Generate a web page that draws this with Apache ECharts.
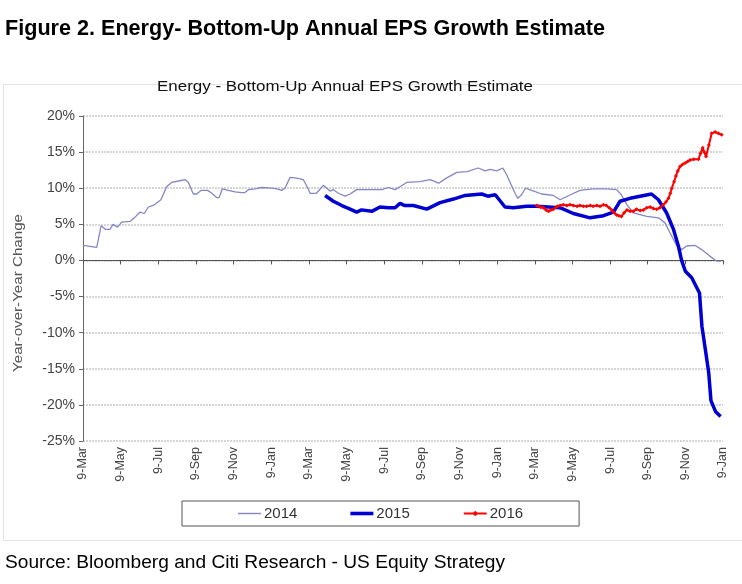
<!DOCTYPE html>
<html>
<head>
<meta charset="utf-8">
<script src="https://cdn.jsdelivr.net/npm/echarts@6/dist/echarts.min.js"></script>
<style>
html,body{margin:0;padding:0;background:#fff;}
#chart{width:742px;height:584px;}
</style>
</head>
<body>
<div id="chart"></div>
<script>
// Tick labels on the x axis (every 2 months, x measured in months from the first 9-Mar)
var xTickLabels = ['9-Mar','9-May','9-Jul','9-Sep','9-Nov','9-Jan','9-Mar','9-May','9-Jul','9-Sep','9-Nov','9-Jan','9-Mar','9-May','9-Jul','9-Sep','9-Nov','9-Jan'];
var seriesNames = ['2014','2015','2016'];

// [month offset, YoY %]
var s2014 = [[0,2.1],[0.73,1.8],[0.96,4.8],[1.2,4.3],[1.43,4.3],[1.6,5.0],[1.84,4.6],[2.05,5.3],[2.5,5.4],[2.73,5.9],[3.03,6.7],[3.26,6.5],[3.47,7.4],[3.79,7.7],[4.14,8.4],[4.44,10.2],[4.71,10.8],[5.07,11.0],[5.42,11.2],[5.6,10.8],[5.86,9.2],[6.04,9.2],[6.27,9.7],[6.62,9.7],[6.84,9.3],[7.1,8.7],[7.23,8.7],[7.4,9.9],[7.72,9.7],[8.08,9.5],[8.43,9.4],[8.6,9.4],[8.79,9.8],[9.14,9.9],[9.5,10.1],[10.03,10.0],[10.3,9.9],[10.56,9.7],[10.73,10.0],[11.0,11.5],[11.35,11.4],[11.7,11.2],[11.97,9.9],[12.06,9.3],[12.4,9.3],[12.77,10.4],[13.12,9.6],[13.3,9.8],[13.57,9.3],[13.92,8.9],[14.19,9.2],[14.54,9.8],[15.16,9.8],[15.87,9.8],[16.22,10.1],[16.58,9.8],[16.9,10.3],[17.2,10.8],[17.9,10.9],[18.44,11.2],[18.9,10.7],[19.3,11.4],[19.86,12.2],[20.4,12.3],[21.0,12.8],[21.36,12.4],[21.63,12.6],[21.98,12.4],[22.3,12.8],[22.5,11.9],[22.95,9.3],[23.1,8.6],[23.3,9.1],[23.5,10.0],[23.84,9.7],[24.37,9.2],[24.99,9.0],[25.34,8.4],[25.9,9.1],[26.4,9.7],[27.1,9.9],[27.8,9.9],[28.35,9.8],[28.6,9.1],[28.9,7.7],[29.24,6.6],[29.95,6.1],[30.57,5.9],[30.92,5.2],[31.19,3.8],[31.55,2.0],[31.8,1.5],[32.07,2.0],[32.5,2.1],[32.87,1.5],[33.3,0.6],[33.67,-0.1],[33.9,-0.1]];

var s2015 = [[12.86,9.0],[13.3,8.2],[13.75,7.6],[14.19,7.1],[14.54,6.7],[14.8,7.0],[15.34,6.8],[15.78,7.4],[16.22,7.3],[16.58,7.3],[16.84,7.9],[17.1,7.6],[17.55,7.6],[18.26,7.1],[18.97,8.0],[19.68,8.5],[20.3,9.0],[21.18,9.2],[21.5,8.9],[21.9,9.1],[22.42,7.4],[22.86,7.3],[23.57,7.5],[24.1,7.5],[25.34,7.3],[26.05,6.5],[26.94,5.9],[27.65,6.2],[28.18,6.7],[28.53,8.2],[29.06,8.6],[29.6,8.9],[30.2,9.2],[30.57,8.4],[31.0,6.6],[31.37,4.3],[31.63,2.0],[31.8,0.0],[32.0,-1.5],[32.34,-2.4],[32.75,-4.5],[32.88,-9.1],[33.06,-12.3],[33.24,-15.5],[33.36,-19.4],[33.6,-20.9],[33.87,-21.6]];

var s2016 = [[24.1,7.6],[24.3,7.4],[24.46,7.3],[24.6,7.0],[24.73,6.8],[24.86,7.0],[24.99,7.1],[25.2,7.5],[25.35,7.6],[25.52,7.7],[25.7,7.6],[25.87,7.7],[26.05,7.6],[26.25,7.5],[26.4,7.6],[26.58,7.5],[26.76,7.5],[26.95,7.6],[27.1,7.5],[27.3,7.6],[27.47,7.5],[27.65,7.7],[27.8,7.6],[27.95,7.3],[28.09,7.0],[28.22,6.6],[28.35,6.3],[28.47,6.2],[28.6,6.1],[28.75,6.6],[28.9,7.0],[29.07,6.8],[29.24,6.8],[29.4,7.1],[29.6,6.9],[29.77,7.0],[29.95,7.3],[30.13,7.4],[30.3,7.2],[30.48,7.1],[30.65,7.3],[30.83,7.7],[30.97,8.1],[31.1,8.6],[31.2,9.3],[31.28,10.0],[31.4,10.9],[31.5,11.7],[31.6,12.4],[31.72,13.0],[31.85,13.3],[31.99,13.5],[32.12,13.7],[32.25,13.9],[32.45,14.0],[32.7,14.0],[32.8,14.8],[32.92,15.6],[33.0,15.0],[33.1,14.4],[33.25,16.0],[33.4,17.6],[33.58,17.8],[33.75,17.6],[33.93,17.4]];

var figTitle = 'Figure 2. Energy- Bottom-Up Annual EPS Growth Estimate';
var chartTitle = 'Energy - Bottom-Up Annual EPS Growth Estimate';
var yTitle = 'Year-over-Year Change';
var sourceText = 'Source: Bloomberg and Citi Research - US Equity Strategy';

var sans = "'Liberation Sans',Arial,sans-serif";
var mctx = document.createElement('canvas').getContext('2d');
function fitScale(text, font, target){
  mctx.font = font;
  var w = mctx.measureText(text).width;
  return w > 0 ? target / w : 1;
}
var fFig = "bold 22px 'Liberation Sans'";
var fChart = "14px 'Liberation Sans'";
var fY = "13px 'Liberation Sans'";
var fSrc = "18px 'Liberation Sans'";

var chart = echarts.init(document.getElementById('chart'), null, {renderer:'canvas'});

chart.setOption({
  animation: false,
  backgroundColor: '#fff',
  graphic: [
    {type:'rect', shape:{x:3.5, y:84.5, width:740, height:456}, style:{fill:'none', stroke:'#e4e4e4', lineWidth:1}, z:-1},
    {type:'text', x:5, y:29, scaleX:fitScale(figTitle, fFig, 600),
     style:{text:figTitle, font:fFig, fill:'#000', textAlign:'left', textVerticalAlign:'middle'}},
    {type:'text', x:345, y:87, scaleX:fitScale(chartTitle, fChart, 376),
     style:{text:chartTitle, font:fChart, fill:'#111', textAlign:'center', textVerticalAlign:'middle'}},
    {type:'text', x:18, y:293, rotation:Math.PI/2, scaleX:fitScale(yTitle, fY, 158),
     style:{text:yTitle, font:fY, fill:'#555', textAlign:'center', textVerticalAlign:'middle'}},
    {type:'text', x:5, y:563, scaleX:fitScale(sourceText, fSrc, 500),
     style:{text:sourceText, font:fSrc, fill:'#000', textAlign:'left', textVerticalAlign:'middle'}}
  ],
  legend: {
    data: [
      {name:'2014', icon:'path://M0,0L23,0L23,1.4L0,1.4Z'},
      {name:'2015', icon:'path://M0,0L23,0L23,3.6L0,3.6Z'},
      {name:'2016'}
    ],
    left: 182, top: 501,
    padding: [5, 56, 5, 56],
    itemGap: 53,
    itemWidth: 23, itemHeight: 7,
    borderColor: '#555', borderWidth: 1,
    textStyle: {fontFamily: sans, fontSize: 15, color: '#333', padding:[0,0,0,-2]}
  },
  grid: {left: 83, right: 19, top: 116, bottom: 143, containLabel: false},
  xAxis: [
    {type:'value', min:0, max:34, interval:2,
     axisLine:{show:false, onZero:false},
     axisTick:{show:false},
     splitLine:{show:false},
     axisLabel:{rotate:90, fontFamily:sans, fontSize:12.5, color:'#444', margin:6,
       formatter:function(v){ return xTickLabels[Math.round(v/2)] || ''; }}},
    {type:'value', min:0, max:34, interval:2, position:'top',
     axisLine:{show:true, onZero:true, lineStyle:{color:'#555', width:1}},
     axisTick:{show:true, inside:true, length:4, lineStyle:{color:'#555'}},
     axisLabel:{show:false},
     splitLine:{show:false}}
  ],
  yAxis: {
    type:'value', min:-25, max:20, interval:5,
    axisLine:{show:true, lineStyle:{color:'#666', width:1}},
    axisTick:{show:true, length:4, lineStyle:{color:'#666'}},
    axisLabel:{fontFamily:sans, fontSize:14, color:'#444', margin:8, formatter:'{value}%'},
    splitLine:{show:true, lineStyle:{color:'#c8c8c8', type:[2,1], width:1.5}}
  },
  series: [
    {name:'2014', type:'line', data:s2014, symbol:'none', xAxisIndex:0,
     lineStyle:{color:'#8585c8', width:1.3}, itemStyle:{color:'#8585c8'}, z:2},
    {name:'2015', type:'line', data:s2015, symbol:'none', xAxisIndex:0,
     lineStyle:{color:'#0000d0', width:3.5}, itemStyle:{color:'#0000d0'}, z:3},
    {name:'2016', type:'line', data:s2016, symbol:'diamond', symbolSize:4, showSymbol:true, xAxisIndex:0,
     lineStyle:{color:'#ff0000', width:2}, itemStyle:{color:'#ff0000'}, z:4}
  ]
});
</script>
</body>
</html>
